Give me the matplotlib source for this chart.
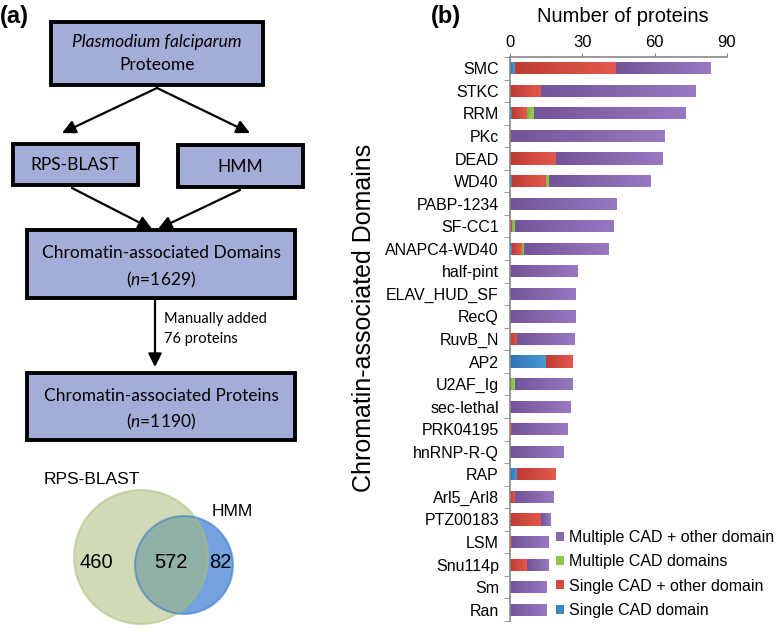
import numpy as np
import matplotlib.pyplot as plt
from matplotlib.patches import Rectangle, Circle
from matplotlib.colors import LinearSegmentedColormap

# panel (b) data, top to bottom
domains = ['SMC', 'STKC', 'RRM', 'PKc', 'DEAD', 'WD40', 'PABP-1234', 'SF-CC1',
           'ANAPC4-WD40', 'half-pint', 'ELAV_HUD_SF', 'RecQ', 'RuvB_N', 'AP2',
           'U2AF_Ig', 'sec-lethal', 'PRK04195', 'hnRNP-R-Q', 'RAP', 'Arl5_Arl8',
           'PTZ00183', 'LSM', 'Snu114p', 'Sm', 'Ran']
single_cad = [2, 0, 1, 0, 0, 1, 0, 0, 1, 0, 0, 0, 0, 15, 0, 0, 0, 0, 3, 0, 0, 0, 0, 0, 0]
single_other = [42, 13, 6, 0, 19, 14, 0, 1, 4, 0, 0, 0, 3, 11, 0, 0, 1, 0, 16, 2, 13, 1, 7, 0, 0]
multi_cad = [0, 0, 3, 0, 0, 1, 0, 1, 1, 0, 0, 0, 0, 0, 2, 0, 0, 0, 0, 0, 0, 0, 0, 0, 0]
multi_other = [39, 64, 63, 64, 44, 42, 44, 41, 35, 28, 27, 27, 24, 0, 24, 25, 23, 22, 0, 16, 4, 15, 9, 15, 15]
series_names = ['Single CAD domain', 'Single CAD + other domain',
                'Multiple CAD domains', 'Multiple CAD + other domain']
series_colors = ['#3d87c6', '#d9483d', '#8fc446', '#8a66ad']
# darker left end / lighter right end of each segment
grad_colors = [('#2f74b4', '#4d98d6'), ('#bd3c33', '#e4594c'),
               ('#7db33a', '#9dd155'), ('#73549a', '#9878c0')]

# venn data
venn_sets = ['RPS-BLAST', 'HMM']
venn_counts = [460, 572, 82]

plt.rcParams['mathtext.fontset'] = 'custom'
plt.rcParams['mathtext.it'] = 'Lato:italic'
plt.rcParams['mathtext.rm'] = 'Lato'

fig = plt.figure(figsize=(7.83, 6.35), dpi=100)

# ---- panel (a): flowchart + venn, drawn in pixel coords
ax0 = fig.add_axes([0, 0, 1, 1])
ax0.set_xlim(0, 783)
ax0.set_ylim(635, 0)
ax0.axis('off')

boxfc = '#a4acd8'
ff = ['Lato', 'DejaVu Sans']

def box(x0, y0, x1, y1):
    ax0.add_patch(Rectangle((x0, y0), x1 - x0, y1 - y0, fc=boxfc, ec='black', lw=2.8))

def arrow(x0, y0, x1, y1):
    ax0.annotate('', xy=(x1, y1), xytext=(x0, y0),
                 arrowprops=dict(arrowstyle='-|>', color='black', lw=1.6,
                                 mutation_scale=20, shrinkA=0, shrinkB=0))

box(51, 22, 263, 85)
ax0.text(157, 42, 'Plasmodium falciparum', ha='center', va='center', fontsize=12.5,
         style='italic', family=ff)
ax0.text(157, 65, 'Proteome', ha='center', va='center', fontsize=12.5, family=ff)
box(13, 144, 138, 185)
ax0.text(75, 165, 'RPS-BLAST', ha='center', va='center', fontsize=12.5, family=ff)
box(178, 145, 303, 187)
ax0.text(240, 167, 'HMM', ha='center', va='center', fontsize=12.5, family=ff)
arrow(157, 88, 62, 133)
arrow(157, 88, 250, 133)
arrow(72, 188, 152, 229)
arrow(240, 190, 158, 229)
box(27, 230, 295, 298)
ax0.text(161, 253, 'Chromatin-associated Domains', ha='center', va='center', fontsize=12.5, family=ff)
ax0.text(161, 280, '($n$=1629)', ha='center', va='center', fontsize=12.5, family=ff)
arrow(155, 298, 155, 367)
ax0.text(164, 319, 'Manually added', ha='left', va='center', fontsize=10.5, family=ff)
ax0.text(164, 339, '76 proteins', ha='left', va='center', fontsize=10.5, family=ff)
box(27, 373, 295, 440)
ax0.text(161, 396, 'Chromatin-associated Proteins', ha='center', va='center', fontsize=12.5, family=ff)
ax0.text(161, 422, '($n$=1190)', ha='center', va='center', fontsize=12.5, family=ff)

ax0.text(0, 17, '(a)', ha='left', va='center', fontsize=17, fontweight='bold', family='Liberation Sans')
ax0.text(431, 17, '(b)', ha='left', va='center', fontsize=17, fontweight='bold', family='Liberation Sans')

# venn
ax0.add_patch(Circle((184, 565), 49, fc='#74a2de', ec='none'))
ax0.add_patch(Circle((141, 557), 67, fc='#aabd7d', alpha=0.55, ec='#a9c07c', lw=1.5))
ax0.add_patch(Circle((184, 565), 49, fc='none', ec='#3f7cc8', lw=1.5, alpha=0.6))
vf = 'Liberation Sans'
ax0.text(92, 480, venn_sets[0], ha='center', va='center', fontsize=12.5, family=vf)
ax0.text(232, 512, venn_sets[1], ha='center', va='center', fontsize=12.5, family=vf)
ax0.text(96, 563, str(venn_counts[0]), ha='center', va='center', fontsize=14.5, family=vf)
ax0.text(171, 563, str(venn_counts[1]), ha='center', va='center', fontsize=14.5, family=vf)
ax0.text(220, 563, str(venn_counts[2]), ha='center', va='center', fontsize=14.5, family=vf)

# ---- panel (b): stacked bars
ax = fig.add_axes([510 / 783, 1 - 621 / 635, 217 / 783, (621 - 57) / 635])
y = np.arange(len(domains))
left = np.zeros(len(domains))
handles = []
for vals, name, col in zip([single_cad, single_other, multi_cad, multi_other], series_names, series_colors):
    h = ax.barh(y, vals, left=left, height=0.54, color=col, label=name)
    handles.append(h)
    left += np.array(vals)

# horizontal gradient inside each segment
ramp = np.linspace(0, 1, 64).reshape(1, -1)
for cont, (c0, c1) in zip(handles, grad_colors):
    cm = LinearSegmentedColormap.from_list('g', [c0, c1])
    for r in cont:
        w = r.get_width()
        if w <= 0:
            continue
        x0, y0, hh = r.get_x(), r.get_y(), r.get_height()
        im = ax.imshow(ramp, cmap=cm, aspect='auto', extent=[x0, x0 + w, y0 + hh, y0],
                       zorder=r.get_zorder() + 0.1, interpolation='bilinear')
        im.set_clip_path(r)

ax.set_aspect('auto')
ax.set_xlim(0, 90)
ax.set_ylim(len(domains) - 0.5, -0.5)
ax.xaxis.tick_top()
ax.set_xticks([0, 30, 60, 90])
ax.tick_params(axis='x', length=3, color='#888888', labelsize=12, pad=2)
ax.set_yticks(y)
ax.set_yticklabels(domains, family='Liberation Sans', fontsize=11.5)
ax.tick_params(axis='y', length=0, pad=8)
ax.set_yticks(np.arange(len(domains) + 1) - 0.5, minor=True)
ax.tick_params(axis='y', which='minor', length=4, color='#888888')
for lab in ax.get_xticklabels():
    lab.set_family('Liberation Sans')
for s in ['right', 'bottom']:
    ax.spines[s].set_visible(False)
for s in ['left', 'top']:
    ax.spines[s].set_color('#888888')
    ax.spines[s].set_linewidth(1.2)

fig.text(623 / 783, 1 - 17 / 635, 'Number of proteins', ha='center', va='center',
         fontsize=14.5, family='Liberation Sans')
fig.text(364 / 783, 1 - 318 / 635, 'Chromatin-associated Domains', ha='center', va='center',
         rotation=90, fontsize=18, family='Liberation Sans')

fig.legend(handles[::-1], series_names[::-1], loc='upper left',
           bbox_to_anchor=(556 / 783, 1 - 530 / 635), frameon=False,
           prop={'family': 'Liberation Sans', 'size': 11.5},
           handlelength=0.5, handleheight=0.5, handletextpad=0.3,
           labelspacing=0.58, borderpad=0, borderaxespad=0)

fig.savefig('out.png', dpi=100)
